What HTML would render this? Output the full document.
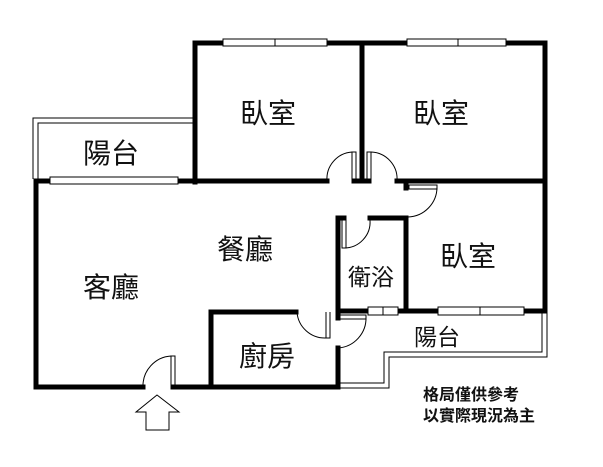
<!DOCTYPE html>
<html><head><meta charset="utf-8"><style>
html,body{margin:0;padding:0;background:#fff;}
svg{display:block}
text{font-family:"Liberation Sans","Noto Sans CJK TC",sans-serif;fill:#111}
</style></head><body>
<svg width="603" height="467" viewBox="0 0 603 467" xmlns="http://www.w3.org/2000/svg">
<g stroke="#000" stroke-width="5" fill="none" stroke-linecap="square">
<path d="M195,182 V43 H545 V310"/>
<path d="M362,43 V180"/>
<path d="M36,181 H327"/>
<path d="M397,181 H545"/>
<path d="M354,181 H369"/>
<path d="M36,181 V387 H143"/>
<path d="M173,387 H337"/>
<path d="M211,387 V312 H296"/>
<path d="M338,218 H344"/>
<path d="M370,218 H406 V310"/>
<path d="M338,218 V310"/>
<path d="M338,312 V318"/>
<path d="M338,348 V387"/>
<path d="M338,311 H545"/>
<path d="M406,183 V188"/>
</g>
<g fill="#fff" stroke="#000" stroke-width="1">
<rect x="223" y="39" width="104" height="7"/><line x1="275" y1="39" x2="275" y2="46"/>
<rect x="407" y="39" width="99" height="7"/><line x1="458" y1="39" x2="458" y2="46"/>
<rect x="50" y="177" width="128" height="7"/>
<rect x="368" y="307" width="30" height="8"/><line x1="383" y1="307" x2="383" y2="315"/>
<rect x="438" y="307" width="86" height="8"/><line x1="480" y1="307" x2="480" y2="315"/>
</g>
<g stroke="#000" stroke-width="1" fill="none">
<path d="M33,179 V118 H193"/>
<path d="M38,179 V123 H193"/>
<path d="M547,312 V357 H389 V388 H338"/>
<path d="M542,312 V352 H384 V383 H340"/>
<path d="M326,312 V338 H330 V312"/>
<path d="M327,181 A27,27 0 0 1 352,152 V181"/><rect x="352" y="152" width="4" height="29"/>
<path d="M397,181 A27,27 0 0 0 371,152 V181"/><rect x="367" y="152" width="4" height="29"/>
<rect x="409" y="185" width="28" height="4"/>
<path d="M437,187 A30,30 0 0 1 408,217"/>
<rect x="342" y="220" width="4" height="28"/>
<path d="M344,248 A26,26 0 0 0 370,220"/>
<path d="M297,312 A28,28 0 0 0 326,338"/>
<rect x="340" y="315" width="26" height="4"/>
<path d="M366,317 A30,30 0 0 1 338,348"/>
<path d="M143,387 A30,30 0 0 1 171,356"/><rect x="171" y="356" width="4" height="31"/>
<path d="M157,395 L136,412 H146 V430 H169 V412 H179 Z"/>
</g>
<g font-size="28">
<text x="240" y="123">臥室</text>
<text x="413" y="123">臥室</text>
<text x="83" y="163">陽台</text>
<text x="217" y="259">餐廳</text>
<text x="83" y="297">客廳</text>
<text x="239" y="366">廚房</text>
<text x="440" y="266">臥室</text>
</g>
<g font-size="23">
<text x="348" y="285">衛浴</text>
<text x="414" y="345">陽台</text>
</g>
<g font-size="16" font-weight="bold">
<text x="423" y="400">格局僅供參考</text>
<text x="423" y="421">以實際現況為主</text>
</g>
</svg>
</body></html>
